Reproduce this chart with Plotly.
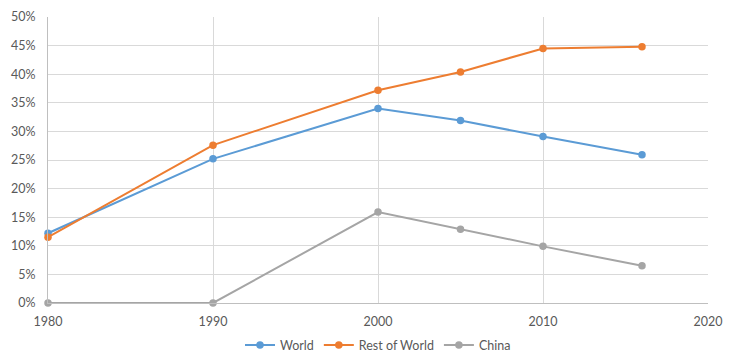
import plotly.graph_objects as go

years = [1980, 1990, 2000, 2005, 2010, 2016]
world = [0.122, 0.252, 0.340, 0.319, 0.291, 0.259]
rest_of_world = [0.115, 0.276, 0.372, 0.404, 0.445, 0.448]
china = [0.0, 0.0, 0.159, 0.129, 0.099, 0.065]

series = [
    ("World", world, "#5B9BD5"),
    ("Rest of World", rest_of_world, "#ED7D31"),
    ("China", china, "#A5A5A5"),
]

fig = go.Figure()
for name, vals, color in series:
    fig.add_trace(go.Scatter(
        x=years, y=vals, name=name, mode="lines+markers",
        line=dict(color=color, width=2),
        marker=dict(color=color, size=7.5),
        cliponaxis=False,
    ))

font_family = "Lato, Open Sans, sans-serif"
fig.update_layout(
    width=735, height=353,
    margin=dict(l=48, r=27, t=17, b=50, autoexpand=False),
    paper_bgcolor="white", plot_bgcolor="white",
    font=dict(family=font_family, size=12.5, color="#595959"),
    showlegend=True,
    legend=dict(orientation="h", x=0.5, xanchor="center", y=-0.148, yanchor="middle",
                font=dict(size=12.5, color="#595959"), itemwidth=30),
    xaxis=dict(range=[1980, 2020], tickvals=[1980, 1990, 2000, 2010, 2020],
               showgrid=True, gridcolor="#D9D9D9", gridwidth=1,
               showline=True, linecolor="#BFBFBF", linewidth=1,
               zeroline=False, ticks="", ticklabelstandoff=7),
    yaxis=dict(range=[0, 0.5], dtick=0.05, tickformat=".0%",
               showgrid=True, gridcolor="#D9D9D9", gridwidth=1,
               showline=True, linecolor="#BFBFBF", linewidth=1,
               zeroline=False, ticks="", ticklabelstandoff=9),
)

fig.write_html("out.html")
